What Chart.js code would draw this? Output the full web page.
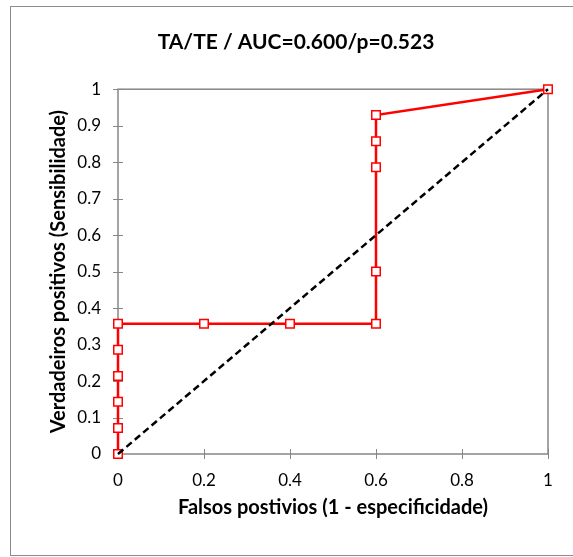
<!DOCTYPE html>
<html>
<head>
<meta charset="utf-8">
<script src="https://cdn.jsdelivr.net/npm/chart.js@4.4.1/dist/chart.umd.min.js"></script>
<style>
  html, body { margin: 0; padding: 0; background: #ffffff; }
  #wrap { width: 573px; height: 557px; }
</style>
</head>
<body>
<div id="wrap"><canvas id="roc" width="573" height="557"></canvas></div>
<script>
// ROC curve: TA/TE
const chartTitle = 'TA/TE / AUC=0.600/p=0.523';
const xTitle = 'Falsos postivios (1 - especificidade)';
const yTitle = 'Verdadeiros positivos (Sensibilidade)';

// operating points (1 - specificity, sensitivity)
const falsePosRate = [0, 0, 0, 0, 0, 0, 0.2, 0.4, 0.6, 0.6, 0.6, 0.6, 0.6, 1];
const truePosRate  = [0, 0.071, 0.143, 0.214, 0.286, 0.357, 0.357, 0.357, 0.357, 0.5, 0.786, 0.857, 0.929, 1];

// reference diagonal
const diagX = [0, 1];
const diagY = [0, 1];

const xTickLabels = ['0', '0.2', '0.4', '0.6', '0.8', '1'];
const yTickLabels = ['0', '0.1', '0.2', '0.3', '0.4', '0.5', '0.6', '0.7', '0.8', '0.9', '1'];

const FONT = 'Lato, "Open Sans", sans-serif';
const GREY = '#878787';

const toPoints = (xs, ys) => xs.map((v, i) => ({ x: v, y: ys[i] }));

// plot frame, crossing tick marks and the outer chart border
const chartFrame = {
  id: 'chartFrame',
  beforeDraw(chart) {
    const { ctx } = chart;
    ctx.save();
    ctx.strokeStyle = '#8c8c8c';
    ctx.lineWidth = 1;
    ctx.strokeRect(10.5, 6.5, 620, 549);
    ctx.restore();
  },
  beforeDatasetsDraw(chart) {
    const { ctx, chartArea: a, scales: { x, y } } = chart;
    const t = 5;
    ctx.save();
    ctx.strokeStyle = GREY;
    ctx.lineWidth = 1.5;
    ctx.strokeRect(a.left, a.top, a.right - a.left, a.bottom - a.top);
    ctx.lineWidth = 1;
    ctx.beginPath();
    x.ticks.forEach(tk => {
      const px = Math.round(x.getPixelForValue(tk.value)) + 0.5;
      ctx.moveTo(px, a.bottom - t);
      ctx.lineTo(px, a.bottom + t);
    });
    y.ticks.forEach(tk => {
      const py = Math.round(y.getPixelForValue(tk.value)) + 0.5;
      ctx.moveTo(a.left - t, py);
      ctx.lineTo(a.left + t, py);
    });
    ctx.stroke();
    ctx.restore();
  }
};

new Chart(document.getElementById('roc'), {
  type: 'scatter',
  data: {
    datasets: [
      {
        label: 'Referência',
        data: toPoints(diagX, diagY),
        showLine: true,
        clip: false,
        borderColor: '#000000',
        borderWidth: 2.5,
        borderDash: [7, 4],
        pointRadius: 0,
        order: 0
      },
      {
        label: 'TA/TE',
        data: toPoints(falsePosRate, truePosRate),
        showLine: true,
        clip: false,
        borderColor: '#ff0000',
        borderWidth: 2.5,
        pointStyle: 'rect',
        pointRadius: 6,
        pointBorderWidth: 1.5,
        pointBorderColor: '#ff0000',
        pointBackgroundColor: '#ffffff',
        order: 1
      }
    ]
  },
  options: {
    responsive: false,
    animation: false,
    layout: { padding: { left: 19, top: 6, right: 0, bottom: 0 } },
    plugins: {
      legend: { display: false },
      tooltip: { enabled: false },
      title: {
        display: true,
        text: chartTitle,
        color: '#000000',
        font: { family: FONT, size: 21, weight: 'bold', lineHeight: 1.2 },
        padding: { top: 24, bottom: 34 }
      }
    },
    scales: {
      x: {
        type: 'linear',
        min: 0,
        max: 1,
        grid: { display: false, drawTicks: false },
        border: { display: false },
        ticks: {
          stepSize: 0.2,
          padding: 16,
          color: '#000000',
          font: { family: FONT, size: 17 },
          callback: (v, i) => xTickLabels[i]
        },
        title: {
          display: true,
          text: xTitle,
          color: '#000000',
          font: { family: FONT, size: 20, weight: 'bold', lineHeight: 1.2 },
          padding: { top: 0, bottom: 37 }
        },
        afterFit: s => { s.height = 103; }
      },
      y: {
        type: 'linear',
        min: 0,
        max: 1,
        grid: { display: false, drawTicks: false },
        border: { display: false },
        ticks: {
          stepSize: 0.1,
          padding: 17,
          color: '#000000',
          font: { family: FONT, size: 17 },
          callback: (v, i) => yTickLabels[i]
        },
        title: {
          display: true,
          text: yTitle,
          color: '#000000',
          font: { family: FONT, size: 20, weight: 'bold', lineHeight: 1.2 },
          padding: { top: 28, bottom: 0 }
        },
        afterFit: s => { s.width = 99; }
      },
      yRight: {
        type: 'linear',
        position: 'right',
        display: true,
        grid: { display: false, drawTicks: false },
        border: { display: false },
        ticks: { display: false },
        afterFit: s => { s.width = 25; }
      }
    }
  },
  plugins: [chartFrame]
});
</script>
</body>
</html>
